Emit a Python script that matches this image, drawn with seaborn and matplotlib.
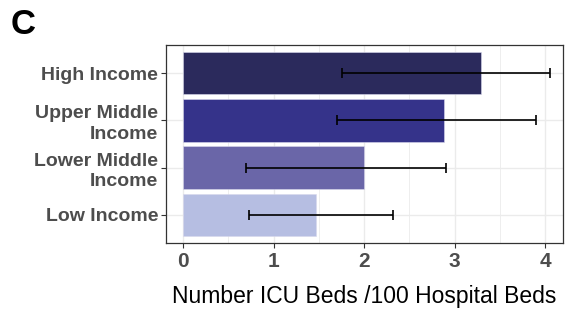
import pandas as pd
import seaborn as sns
import matplotlib.pyplot as plt

# values
income = ["High Income", "Upper Middle\nIncome", "Lower Middle\nIncome", "Low Income"]
beds = [3.29, 2.88, 2.00, 1.47]
err_lo = [1.76, 1.70, 0.70, 0.73]
err_hi = [4.05, 3.90, 2.91, 2.32]
colors = ["#2b2a5c", "#35338a", "#6a66a8", "#b6bee2"]

df = pd.DataFrame({"income": income, "beds": beds})

sns.set_theme(style="white")
plt.rcParams["font.family"] = ["Liberation Sans", "DejaVu Sans"]

fig = plt.figure(figsize=(5.66, 3.2), dpi=100)
ax = fig.add_axes([0.293, 0.24, 0.702, 0.62])

sns.barplot(data=df, x="beds", y="income", hue="income", palette=colors,
            order=income, width=0.9, legend=False, saturation=1,
            edgecolor="#d8d8ec", linewidth=0.4, ax=ax, zorder=2)

# error bars from the lower / upper values
ypos = list(range(len(income)))
mid = [(a + b) / 2 for a, b in zip(err_lo, err_hi)]
half = [(b - a) / 2 for a, b in zip(err_lo, err_hi)]
ax.errorbar(mid, ypos, xerr=half, fmt="none", ecolor="black",
            elinewidth=1.2, capsize=3.6, capthick=1.2, zorder=3)

ax.set_xlim(-0.19, 4.2)
ax.set_ylim(3.6, -0.6)
ax.set_xticks([0, 1, 2, 3, 4])
ax.set_xticks([0.5, 1.5, 2.5, 3.5], minor=True)
ax.set_yticks(ypos)
ax.set_yticklabels(income, linespacing=1.25, fontweight="bold")
ax.grid(True, which="major", color="#ebebeb", linewidth=1.0, zorder=0)
ax.grid(True, which="minor", axis="x", color="#ebebeb", linewidth=0.6, zorder=0)
ax.set_axisbelow(True)

for s in ax.spines.values():
    s.set_color("#333333")
    s.set_linewidth(0.9)

ax.tick_params(axis="both", which="major", length=3.5, width=0.8, color="#333333",
               bottom=True, left=True)
ax.tick_params(axis="both", which="minor", length=0)
ax.tick_params(axis="x", labelsize=15, labelcolor="#4d4d4d", pad=3)
ax.tick_params(axis="y", labelsize=14, labelcolor="#4d4d4d", pad=2)
for lab in ax.get_xticklabels():
    lab.set_fontweight("bold")

ax.set_ylabel("")
ax.set_xlabel("Number ICU Beds /100 Hospital Beds", fontsize=16.5, color="black", labelpad=10)

fig.text(0.018, 0.975, "C", fontsize=25, fontweight="bold", color="black",
         va="top", ha="left")

fig.savefig("out.png", dpi=100)
